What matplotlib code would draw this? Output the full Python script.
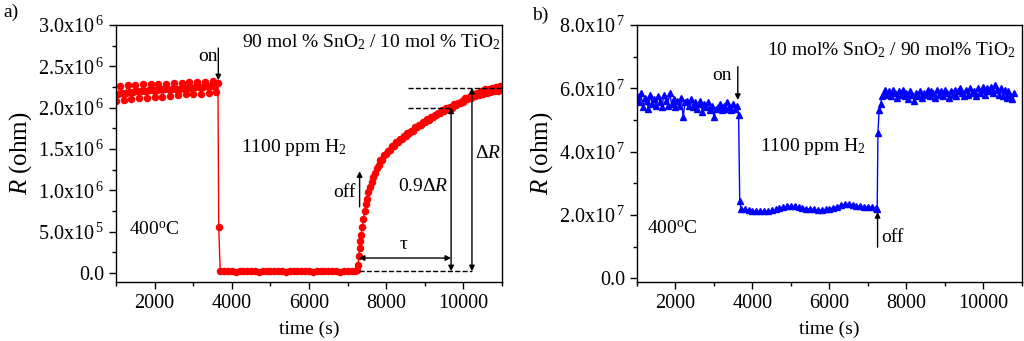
import numpy as np
import matplotlib
matplotlib.use('Agg')
import matplotlib.pyplot as plt
from matplotlib.ticker import MultipleLocator, FuncFormatter

plt.rcParams['font.family'] = ['Liberation Serif', 'DejaVu Serif']
plt.rcParams['mathtext.fontset'] = 'custom'
plt.rcParams['mathtext.rm'] = 'Liberation Serif'
plt.rcParams['mathtext.it'] = 'Liberation Serif:italic'
plt.rcParams['mathtext.bf'] = 'Liberation Serif:bold'

# shared time grids (s)
t_before = [1000, 1050, 1100, 1150, 1200, 1250, 1300, 1350, 1400, 1450,
            1500, 1550, 1600, 1650, 1700, 1750, 1800, 1850, 1900, 1950,
            2000, 2050, 2100, 2150, 2200, 2250, 2300, 2350, 2400, 2450,
            2500, 2550, 2600, 2650, 2700, 2750, 2800, 2850, 2900, 2950,
            3000, 3050, 3100, 3150, 3200, 3250, 3300, 3350, 3400, 3450,
            3500, 3550, 3600, 3640]
t_gas = [3700, 3800, 3900, 4000, 4100, 4200, 4300, 4400, 4500, 4600,
         4700, 4800, 4900, 5000, 5100, 5200, 5300, 5400, 5500, 5600,
         5700, 5800, 5900, 6000, 6100, 6200, 6300, 6400, 6500, 6600,
         6700, 6800, 6900, 7000, 7100, 7200]

# panel a: 90 mol% SnO2 / 10 mol% TiO2  (R in 1e6 ohm)
ra_before = [2.08, 2.17, 2.26, 2.18, 2.09, 2.18, 2.27, 2.19, 2.10, 2.19,
             2.27, 2.20, 2.11, 2.20, 2.28, 2.20, 2.12, 2.21, 2.28, 2.21,
             2.13, 2.21, 2.29, 2.22, 2.13, 2.22, 2.29, 2.22, 2.14, 2.23,
             2.30, 2.23, 2.15, 2.23, 2.30, 2.24, 2.16, 2.24, 2.31, 2.24,
             2.16, 2.25, 2.31, 2.25, 2.17, 2.25, 2.31, 2.26, 2.18, 2.26,
             2.32, 2.26, 2.19, 2.30]
ta_drop = [3660]
ra_drop = [0.55]
ra_gas = [0.02, 0.02, 0.025, 0.02, 0.015, 0.02, 0.02, 0.025, 0.02, 0.02,
          0.015, 0.02, 0.02, 0.02, 0.025, 0.02, 0.02, 0.015, 0.02, 0.02,
          0.02, 0.025, 0.02, 0.02, 0.015, 0.02, 0.02, 0.02, 0.025, 0.02,
          0.02, 0.015, 0.02, 0.02, 0.02, 0.02]
ta_rec = [7250, 7270, 7290, 7310, 7330, 7350, 7380, 7410, 7440, 7470,
          7500, 7540, 7580, 7620, 7660, 7700, 7750, 7800, 7850, 7900,
          7950, 8000, 8050, 8100, 8150, 8200, 8250, 8300, 8350, 8400,
          8450, 8500, 8550, 8600, 8650, 8700, 8750, 8800, 8850, 8900,
          8950, 9000, 9050, 9100, 9150, 9200, 9250, 9300, 9350, 9400,
          9450, 9500, 9550, 9600, 9650, 9700, 9750, 9800, 9850, 9900,
          9950, 10000, 10050, 10100, 10150, 10200, 10250, 10300, 10350, 10400,
          10450, 10500, 10550, 10600, 10650, 10700, 10750, 10800, 10850, 10900,
          10950, 11000]
ra_rec = [0.03, 0.10, 0.20, 0.30, 0.38, 0.46, 0.56, 0.65, 0.75, 0.83,
          0.90, 0.98, 1.04, 1.10, 1.16, 1.21, 1.27, 1.30, 1.36, 1.37,
          1.43, 1.44, 1.48, 1.49, 1.53, 1.54, 1.58, 1.58, 1.62, 1.62,
          1.66, 1.66, 1.69, 1.69, 1.72, 1.72, 1.76, 1.76, 1.79, 1.79,
          1.82, 1.82, 1.86, 1.85, 1.89, 1.88, 1.91, 1.91, 1.94, 1.93,
          1.97, 1.96, 1.99, 1.98, 2.01, 2.00, 2.04, 2.03, 2.06, 2.05,
          2.08, 2.07, 2.11, 2.10, 2.13, 2.12, 2.16, 2.14, 2.18, 2.15,
          2.20, 2.17, 2.22, 2.18, 2.23, 2.19, 2.24, 2.20, 2.25, 2.20,
          2.26, 2.21]

# panel b: 10 mol% SnO2 / 90 mol% TiO2  (R in 1e7 ohm)
rb_before = [5.75, 5.55, 5.85, 5.40, 5.70, 5.60, 5.35, 5.80, 5.50, 5.65,
             5.45, 5.75, 5.55, 5.40, 5.80, 5.60, 5.45, 5.85, 5.50, 5.65,
             5.40, 5.60, 5.45, 5.70, 5.10, 5.55, 5.60, 5.45, 5.65, 5.40,
             5.55, 5.35, 5.50, 5.60, 5.25, 5.50, 5.40, 5.55, 5.30, 5.45,
             5.10, 5.35, 5.40, 5.50, 5.30, 5.45, 5.35, 5.55, 5.40, 5.30,
             5.50, 5.35, 5.45, 5.15]
tb_drop = [3670]
rb_drop = [2.45]
rb_gas = [2.20, 2.17, 2.15, 2.13, 2.12, 2.11, 2.11, 2.12, 2.14, 2.17,
          2.21, 2.25, 2.27, 2.28, 2.27, 2.25, 2.22, 2.20, 2.18, 2.17,
          2.16, 2.16, 2.17, 2.19, 2.22, 2.26, 2.30, 2.33, 2.34, 2.32,
          2.29, 2.27, 2.26, 2.25, 2.24, 2.22]
tb_rec = [7240, 7260, 7290, 7330, 7370, 7420,
          7450, 7500, 7550, 7600, 7650, 7700, 7750, 7800, 7850, 7900,
          7950, 8000, 8050, 8100, 8150, 8200, 8250, 8300, 8350, 8400,
          8450, 8500, 8550, 8600, 8650, 8700, 8750, 8800, 8850, 8900,
          8950, 9000, 9050, 9100, 9150, 9200, 9250, 9300, 9350, 9400,
          9450, 9500, 9550, 9600, 9650, 9700, 9750, 9800, 9850, 9900,
          9950, 10000, 10050, 10100, 10150, 10200, 10250, 10300, 10350, 10400,
          10450, 10500, 10550, 10600, 10650, 10700, 10750, 10800]
rb_rec = [2.20, 4.60, 5.30, 5.50, 5.75, 5.85,
          5.95, 5.80, 5.90, 5.75, 5.95, 5.85, 5.70, 5.90, 5.80, 5.95,
          5.75, 5.85, 5.65, 5.90, 5.80, 5.60, 5.85, 5.75, 5.90, 5.70,
          5.85, 5.80, 5.95, 5.75, 5.90, 5.85, 5.70, 5.95, 5.80, 5.90,
          5.75, 5.95, 5.85, 5.70, 5.90, 5.80, 5.95, 5.75, 5.90, 6.00,
          5.85, 5.75, 5.95, 5.80, 6.00, 5.85, 5.90, 5.75, 6.00, 5.85,
          5.95, 6.05, 5.80, 6.00, 5.90, 6.05, 5.85, 6.10, 5.95, 5.80,
          6.00, 5.75, 5.95, 5.70, 5.90, 5.80, 5.65, 5.85]

ta = np.array(t_before + ta_drop + t_gas + ta_rec)
ra = np.array(ra_before + ra_drop + ra_gas + ra_rec) * 1e6
tb = np.array(t_before + tb_drop + t_gas + tb_rec)
rb = np.array(rb_before + rb_drop + rb_gas + rb_rec) * 1e7


def sci_fmt(v, pos):
    if abs(v) < 1e-9:
        return '0.0'
    e = int(np.floor(np.log10(abs(v)) + 1e-9))
    m = v / 10 ** e
    return '%.1fx10$^{\\,%d}$' % (m, e)


def arrow(ax, tail, head, style='-|>'):
    ax.annotate('', xy=head, xytext=tail,
                arrowprops=dict(arrowstyle=style, color='k', lw=1,
                                mutation_scale=8, shrinkA=0, shrinkB=0))


fig = plt.figure(figsize=(10.24, 3.41), dpi=100)
axa = fig.add_axes([0.1133, 0.173, 0.377, 0.754])
axb = fig.add_axes([0.622, 0.173, 0.376, 0.754])

for ax in (axa, axb):
    ax.set_xlim(1000, 11000)
    ax.xaxis.set_major_locator(MultipleLocator(2000))
    ax.xaxis.set_minor_locator(MultipleLocator(1000))
    ax.yaxis.set_major_formatter(FuncFormatter(sci_fmt))
    ax.tick_params(which='both', direction='out', top=False, right=False,
                   labelsize=14.5, width=1)
    ax.tick_params(which='major', length=5)
    ax.tick_params(which='minor', length=3)
    ax.set_xlabel('time (s)', fontsize=14, labelpad=6)
    ax.set_ylabel('$R$ (ohm)', fontsize=18, labelpad=3)
    for s in ax.spines.values():
        s.set_linewidth(1)

# ---- panel a
axa.plot(ta, ra, '-o', color='red', lw=1, ms=4.4, mec='red', mfc='red')
axa.set_ylim(-1.1e5, 3.0e6)
axa.yaxis.set_major_locator(MultipleLocator(5e5))
axa.yaxis.set_minor_locator(MultipleLocator(2.5e5))

axa.text(7600, 2.79e6, '90 mol % SnO$_2$ / 10 mol % TiO$_2$', fontsize=14,
         ha='center', va='center')
axa.text(3370, 2.62e6, 'on', fontsize=14, ha='center', va='center')
arrow(axa, (3650, 2.72e6), (3650, 2.33e6))
axa.text(5600, 1.52e6, '1100 ppm H$_2$', fontsize=14, ha='center', va='center')
axa.text(6920, 0.97e6, 'off', fontsize=14, ha='center', va='center')
arrow(axa, (7310, 0.80e6), (7310, 1.23e6))
axa.text(1990, 0.52e6, '400$^{\\mathregular{o}}$C', fontsize=14,
         ha='center', va='center')
axa.text(8450, 0.34e6, '\u03c4', fontsize=14, ha='center', va='center')
arrow(axa, (7290, 0.18e6), (9680, 0.18e6), '<|-|>')
axa.plot([7290, 10220], [0.02e6, 0.02e6], '--', color='k', lw=1)
axa.plot([8560, 9680], [2.0e6, 2.0e6], '--', color='k', lw=1)
axa.plot([8560, 10980], [2.24e6, 2.24e6], '--', color='k', lw=1)
arrow(axa, (9680, 0.02e6), (9680, 2.0e6), '<|-|>')
arrow(axa, (10220, 0.02e6), (10220, 2.24e6), '<|-|>')
axa.text(8970, 1.04e6, '0.9$\\Delta R$', fontsize=14, ha='center', va='center')
axa.text(10630, 1.45e6, '$\\Delta R$', fontsize=14, ha='center', va='center')

# ---- panel b
axb.plot(tb, rb, '-^', color='blue', lw=1, ms=5, mec='blue', mfc='blue')
axb.set_ylim(-1.2e6, 8.0e7)
axb.yaxis.set_major_locator(MultipleLocator(2e7))
axb.yaxis.set_minor_locator(MultipleLocator(1e7))

axb.text(7615, 7.2e7, '10 mol% SnO$_2$ / 90 mol% TiO$_2$', fontsize=14,
         ha='center', va='center')
axb.text(3220, 6.39e7, 'on', fontsize=14, ha='center', va='center')
arrow(axb, (3620, 6.68e7), (3620, 5.63e7))
axb.text(5570, 4.15e7, '1100 ppm H$_2$', fontsize=14, ha='center', va='center')
axb.text(7640, 1.27e7, 'off', fontsize=14, ha='center', va='center')
arrow(axb, (7250, 0.98e7), (7250, 2.09e7))
axb.text(1930, 1.55e7, '400$^{\\mathregular{o}}$C', fontsize=14,
         ha='center', va='center')

fig.text(0.003, 0.965, 'a)', fontsize=14, ha='left', va='center')
fig.text(0.520, 0.955, 'b)', fontsize=14, ha='left', va='center')

fig.savefig('out.png', dpi=100)
